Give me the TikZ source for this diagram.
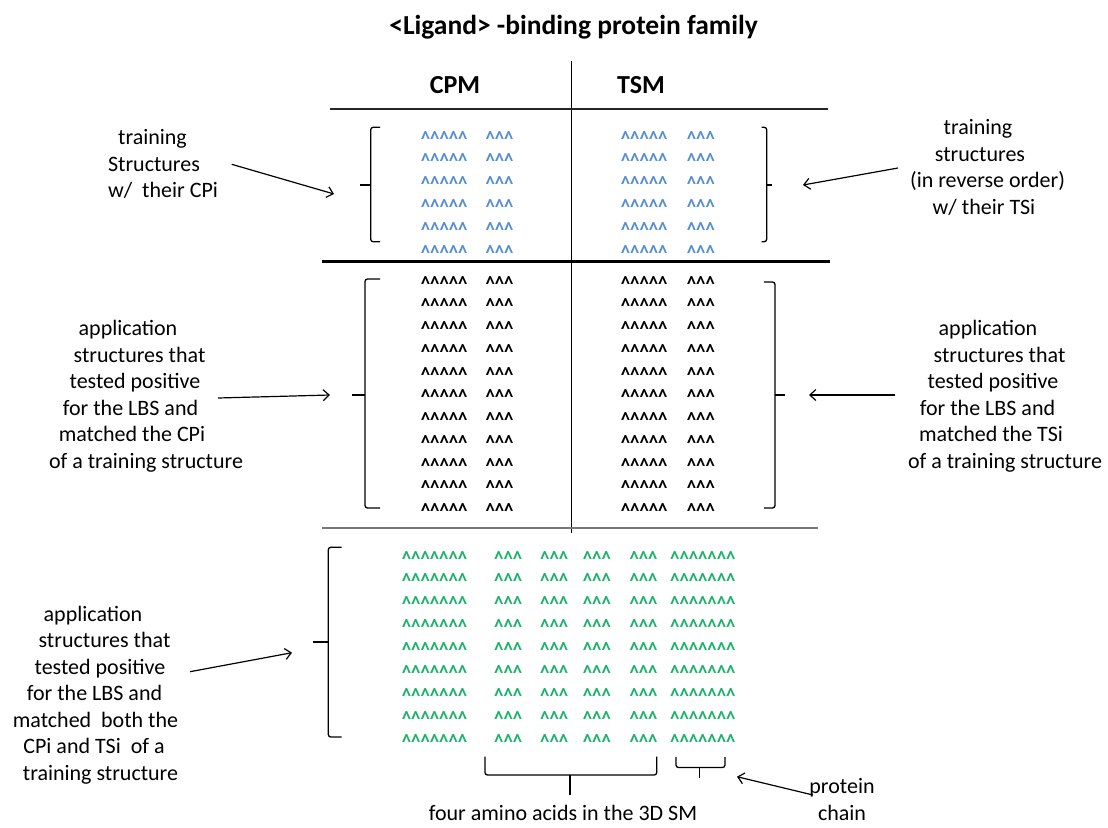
\documentclass[tikz,border=0pt]{standalone}
\usepackage{fontspec}
\setmainfont{Carlito}
\usetikzlibrary{arrows.meta}
\definecolor{caretblue}{RGB}{84,141,212}
\definecolor{caretgreen}{RGB}{24,178,104}
\definecolor{rulegray}{RGB}{120,120,120}
\tikzset{
  lbl/.style={align=center,inner sep=0pt,font=\fontsize{22}{26.5}\selectfont},
  head/.style={inner sep=0pt,font=\fontsize{26}{30}\selectfont\bfseries,anchor=base},
  carets/.style={inner sep=0pt,anchor=base west,text height=6pt,text depth=0pt,
                 font=\fontsize{18}{18}\selectfont\bfseries},
  brk/.style={line width=1.3pt,rounded corners=2.5pt},
  pointer/.style={line width=1.2pt,-{Straight Barb[length=6pt,width=11pt,line width=1.2pt]}},
}
% rows of carets, stretched a little
\newcommand{\crow}[1]{\smash{\scalebox{1.04}[1.22]{\foreach \k in {1,...,#1}{\textasciicircum}}}}
% a centred line with extra room on its right, which moves it to the left
\newcommand{\padded}[2]{\mbox{#1\hspace*{#2pt}}}
\begin{document}
\begin{tikzpicture}[x=1pt,y=-1pt]
\useasboundingbox (0,0) rectangle (1108,827);

% title and column headings
\node[head,font=\fontsize{27.5}{32}\selectfont\bfseries] (title) at (573.5,34.3) {<Ligand> -binding protein family};
\node[head] (cpm) at (455,93.3) {CPM};
\node[head] (tsm) at (641,93.3) {TSM};

% table rules
\draw[line width=1.5pt] (571.3,60.7) -- (571.3,533);
\draw[line width=1.2pt,black!85] (330,109) -- (828,109);
\draw[line width=3pt] (322,261.7) -- (830,261.7);
\draw[line width=1.4pt,rulegray] (322,528) -- (818,528);

% training rows
\foreach \r in {0,...,5}{
  \pgfmathsetmacro{\yy}{134+22.9*\r+12}
  \node[carets,text=caretblue] (ta\r) at (420.7,\yy) {\crow{5}};
  \node[carets,text=caretblue] (tb\r) at (485.3,\yy) {\crow{3}};
  \node[carets,text=caretblue] (tc\r) at (620.7,\yy) {\crow{5}};
  \node[carets,text=caretblue] (td\r) at (686.7,\yy) {\crow{3}};
}
% application rows
\foreach \r in {0,...,10}{
  \pgfmathsetmacro{\yy}{279+22.75*\r+12}
  \node[carets] (aa\r) at (420.7,\yy) {\crow{5}};
  \node[carets] (ab\r) at (485.3,\yy) {\crow{3}};
  \node[carets] (ac\r) at (620.7,\yy) {\crow{5}};
  \node[carets] (ad\r) at (686.7,\yy) {\crow{3}};
}
% rows matching both
\foreach \r in {0,...,8}{
  \pgfmathsetmacro{\yy}{554+22.9*\r+12}
  \node[carets,text=caretgreen] (ba\r) at (401.7,\yy) {\crow{7}};
  \node[carets,text=caretgreen] (bb\r) at (494,\yy) {\crow{3}};
  \node[carets,text=caretgreen] (bc\r) at (540,\yy) {\crow{3}};
  \node[carets,text=caretgreen] (bd\r) at (582.7,\yy) {\crow{3}};
  \node[carets,text=caretgreen] (be\r) at (629.3,\yy) {\crow{3}};
  \node[carets,text=caretgreen] (bf\r) at (670,\yy) {\crow{7}};
}

% brackets
\draw[brk] (380,127.3) -- (370.7,127.3) -- (370.7,241.7) -- (380,241.7);
\draw[brk] (370.7,185) -- (360,185);
\coordinate (tl) at (334,194);
\draw[brk] (761.7,127.3) -- (766.7,127.3) -- (766.7,241.7) -- (761.7,241.7);
\draw[brk] (766.7,185) -- (771.7,185);
\coordinate (tr) at (803,185);

\draw[brk] (380,279) -- (365,279) -- (365,508) -- (380,508);
\draw[brk] (365,395) -- (352,395);
\coordinate (ml) at (330,395);
\draw[brk] (764,282) -- (775,282) -- (775,508) -- (764,508);
\draw[brk] (775,395) -- (785,395);
\coordinate (mr) at (809,395);

\draw[brk] (341.7,547.3) -- (328.3,547.3) -- (328.3,737) -- (341.7,737);
\draw[brk] (328.3,642) -- (313,642);
\coordinate (bl) at (292,652.7);

% braces under the rows
\draw[brk] (485,756.7) -- (485,775) -- (656.7,775) -- (656.7,756.7);
\draw[brk] (570,775) -- (570,795);
\draw[brk] (676,757) -- (676,767.5) -- (725,767.5) -- (725,757);
\draw[brk] (699.3,767.5) -- (699.3,777.5);
\coordinate (pc) at (737,776.7);

% labels (placed by the baseline of their last line)
\node[lbl,anchor=base] (l1) at (163,197.7) {\padded{training}{21}\\\padded{Structures}{18}\\w/\ \ their CPi};
\node[lbl,anchor=base] (r1) at (987.5,214) {\padded{training}{19}\\\padded{structures}{15}\\(in reverse order)\\\padded{w/ their TSi}{7}};
\node[lbl,anchor=base] (l2) at (146,468) {\padded{application}{36}\\\padded{structures that}{13}\\\padded{tested positive}{22}\\\padded{for the LBS and}{31}\\\padded{matched the CPi}{28}\\of a training structure};
\node[lbl,anchor=base] (r2) at (1005,468) {\padded{application}{34}\\\padded{structures that}{11}\\\padded{tested positive}{24}\\\padded{for the LBS and}{35}\\\padded{matched the TSi}{28}\\of a training structure};
\node[lbl,anchor=base] (l3) at (104.5,780) {\padded{application}{23}\\structures that\\\padded{tested positive}{9}\\\padded{for the LBS and}{20}\\\padded{matched\ \ both the}{18}\\\padded{CPi and TSi\ \ of a}{21}\\\padded{training structure}{8}};
\node[lbl,anchor=base] (fa) at (563,820) {four amino acids in the 3D SM};
\node[lbl,anchor=base] (pch) at (842,820) {protein\\chain};

% pointers
\coordinate (l1s) at (231.7,164.3);
\coordinate (r1s) at (898,168);
\coordinate (l2s) at (218,398);
\coordinate (r2s) at (895,395);
\coordinate (l3s) at (190,671.7);
\coordinate (pcs) at (813,795);
\draw[pointer] (l1s) -- (tl);
\draw[pointer] (r1s) -- (tr);
\draw[pointer] (l2s) -- (ml);
\draw[pointer] (r2s) -- (mr);
\draw[pointer] (l3s) -- (bl);
\draw[pointer] (pcs) -- (pc);
\end{tikzpicture}
\end{document}
